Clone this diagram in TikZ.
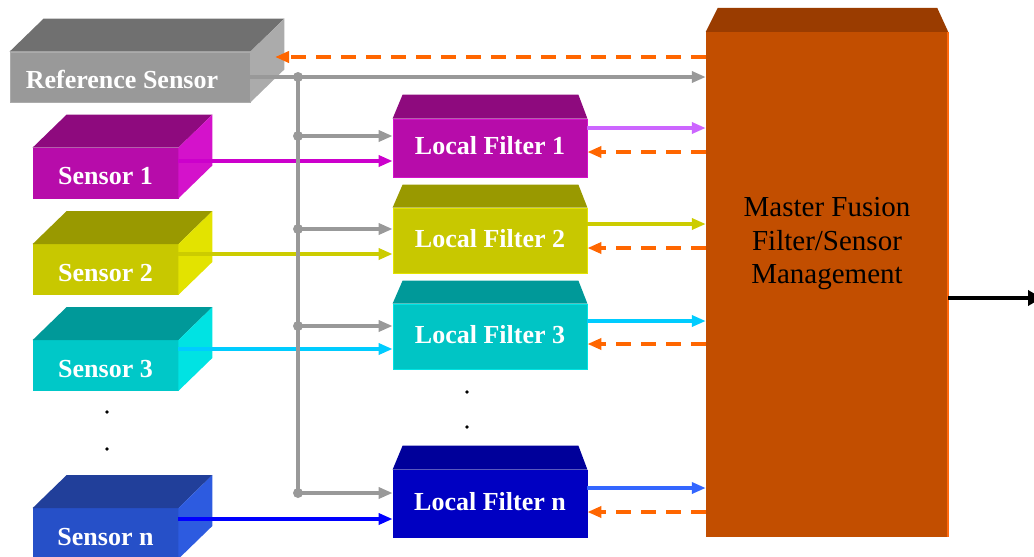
\documentclass[tikz,border=0pt]{standalone}
\usepackage{fontspec}
\setmainfont{Liberation Serif}
\usetikzlibrary{arrows.meta,calc}

% box palettes: front / top / side
\definecolor{refF}{HTML}{999999}\definecolor{refT}{HTML}{707070}\definecolor{refS}{HTML}{ABABAB}
\definecolor{sAF}{HTML}{B70CAA}\definecolor{sAT}{HTML}{8E0A7E}\definecolor{sAS}{HTML}{D412CB}
\definecolor{sBF}{HTML}{C8C800}\definecolor{sBT}{HTML}{999900}\definecolor{sBS}{HTML}{E3E300}
\definecolor{sCF}{HTML}{00C8C8}\definecolor{sCT}{HTML}{009999}\definecolor{sCS}{HTML}{00E3E3}
\definecolor{sNF}{HTML}{2650C8}\definecolor{sNT}{HTML}{213F9A}\definecolor{sNS}{HTML}{2D5BE0}
\definecolor{fAF}{HTML}{B70CAA}\definecolor{fAT}{HTML}{8E0A7E}
\definecolor{fBF}{HTML}{C8C800}\definecolor{fBT}{HTML}{999900}
\definecolor{fCF}{HTML}{00C5C5}\definecolor{fCT}{HTML}{009999}
\definecolor{fNF}{HTML}{0000C2}\definecolor{fNT}{HTML}{00009A}
\definecolor{mF}{HTML}{C24E00}\definecolor{mT}{HTML}{9A3C00}\definecolor{mE}{HTML}{FF6A10}
% connector colours
\definecolor{busgray}{HTML}{999999}
\definecolor{fborange}{HTML}{FF6600}
\definecolor{lnA}{HTML}{CC00CC}\definecolor{outA}{HTML}{CC66FF}
\definecolor{lnB}{HTML}{CCCC00}\definecolor{outB}{HTML}{CCCC00}
\definecolor{lnC}{HTML}{00CCFF}\definecolor{outC}{HTML}{00CCFF}
\definecolor{lnN}{HTML}{0000FF}\definecolor{outN}{HTML}{3366FF}

% top and right faces of a sensor block
\newcommand\prismfaces[5]{%
  \fill[#4] (#1.north west) -- ++(#2,-#3) -- ($(#1.north east)+(#2,-#3)$) -- (#1.north east) -- cycle;
  \fill[#5] (#1.north east) -- ++(#2,-#3) -- ($(#1.south east)+(#2,-#3)$) -- (#1.south east) -- cycle;}
% receding lid on top of a filter block
\newcommand\lidface[5]{%
  \fill[#5] (#1.north west) -- ($(#1.north west)+(#3,-#2)$) -- ($(#1.north east)+(-#4,-#2)$) -- (#1.north east) -- cycle;}

\begin{document}
\begin{tikzpicture}[x=1pt,y=-1pt,
  face/.style={inner sep=0pt, line width=0.8pt, text=white,
    font=\bfseries\fontsize{26}{28}\selectfont},
  sensorbox/.style={face, minimum width=145pt, minimum height=50pt,
    text height=23pt, text depth=0pt},
  filterbox/.style={face, minimum width=194pt, text height=18pt, text depth=5pt},
  flow/.style={line width=3.4pt, -{Triangle[length=14pt,width=11pt]}},
  fb/.style={flow, line width=3.6pt, draw=fborange, dash pattern=on 15pt off 10pt},
  bus/.style={line width=3.6pt, draw=busgray},
  ellip/.style={fill=black}]
\useasboundingbox (0,0) rectangle (1034,557);

% ---- sensors
\node[face, fill=refF, draw=refS, minimum width=240pt, minimum height=50pt,
  text height=22pt, text depth=0pt] (ref) at (130,77) {Reference Sensor\hspace*{16pt}};
\prismfaces{ref}{34}{33}{refT}{refS}
\node[sensorbox, fill=sAF, draw=sAF] (s1) at (105.5,173) {Sensor 1};
\prismfaces{s1}{34}{33}{sAT}{sAS}
\node[sensorbox, fill=sBF, draw=sBF] (s2) at (105.5,269.5) {Sensor 2};
\prismfaces{s2}{34}{33}{sBT}{sBS}
\node[sensorbox, fill=sCF, draw=sCF] (s3) at (105.5,365.5) {Sensor 3};
\prismfaces{s3}{34}{33}{sCT}{sCS}
\node[sensorbox, fill=sNF, draw=sNF] (sn) at (105.5,533.5) {Sensor n};
\prismfaces{sn}{34}{33}{sNT}{sNS}

% ---- local filters
\node[filterbox, fill=fAF, draw=sAS, minimum height=58pt] (f1) at (490,148) {Local Filter 1};
\lidface{f1}{24}{10}{9}{fAT}
\node[filterbox, fill=fBF, draw=sBS, minimum height=65pt] (f2) at (490,240.5) {Local Filter 2};
\lidface{f2}{23}{10}{9}{fBT}
\node[filterbox, fill=fCF, draw=sCS, minimum height=65pt] (f3) at (490,336.5) {Local Filter 3};
\lidface{f3}{23}{10}{9}{fCT}
\node[filterbox, fill=fNF, draw=fNF, minimum height=67pt] (fn) at (490,503.5) {Local Filter n};
\lidface{fn}{24}{10}{9}{fNT}

% ---- master fusion block
\node[inner sep=0pt, fill=mF, minimum width=242pt, minimum height=505pt] (master) at (827,284.5) {};
\lidface{master}{24}{12}{11}{mT}
\draw[mE, line width=1.5pt] (master.north east) -- (master.south east);
\node[align=center, inner sep=0pt, font=\fontsize{29}{33.5}\selectfont] (mlabel) at (827,244)
  {Master Fusion\\Filter/Sensor\\Management};

% ---- reference sensor links
\coordinate (bus top) at (298,77);
\coordinate (refin) at (275,57);
\draw[fb] (refin -| master.west) -- (refin);
\draw[flow, draw=busgray] (ref.east) -- (ref.east -| master.west);

% ---- per-filter links: bus tap, sensor input, output, feedback
\foreach \f/\s/\g/\i/\o/\b/\ci/\co in
  {f1/s1/12/13/20/4/lnA/outA, f2/s2/11.5/13.5/16.5/7.5/lnB/outB,
   f3/s3/10.5/12.5/15.5/7.5/lnC/outC, fn/sn/10.5/15.5/15.5/8.5/lnN/outN}{
  \coordinate (g\f) at ([yshift=\g pt]\f.west);
  \coordinate (i\f) at ([yshift=-\i pt]\f.west);
  \coordinate (o\f) at ([yshift=\o pt]\f.east);
  \coordinate (b\f) at ([yshift=-\b pt]\f.east);
  \draw[flow, draw=busgray] (g\f -| bus top) -- (g\f);
  \draw[flow, draw=\ci] (i\f -| \s.east) -- (i\f);
  \draw[flow, draw=\co] (o\f) -- (o\f -| master.west);
  \draw[fb] (b\f -| master.west) -- (b\f);
}
\draw[bus] (bus top) -- (gfn -| bus top);
\foreach \p in {bus top, gf1, gf2, gf3, gfn}
  \fill[busgray] (\p -| bus top) circle (5);

% ---- fused output, running off the right edge
\coordinate (result) at (1042,298);
\draw[line width=4pt, draw=black, -{Triangle[length=14pt,width=15pt]}] (result -| master.east) -- (result);

% ---- ellipsis dots
\fill[ellip] (107,412) circle (1.8);
\fill[ellip] (107,449) circle (1.8);
\fill[ellip] (467,392) circle (1.8);
\fill[ellip] (467,427) circle (1.8);
\end{tikzpicture}
\end{document}
